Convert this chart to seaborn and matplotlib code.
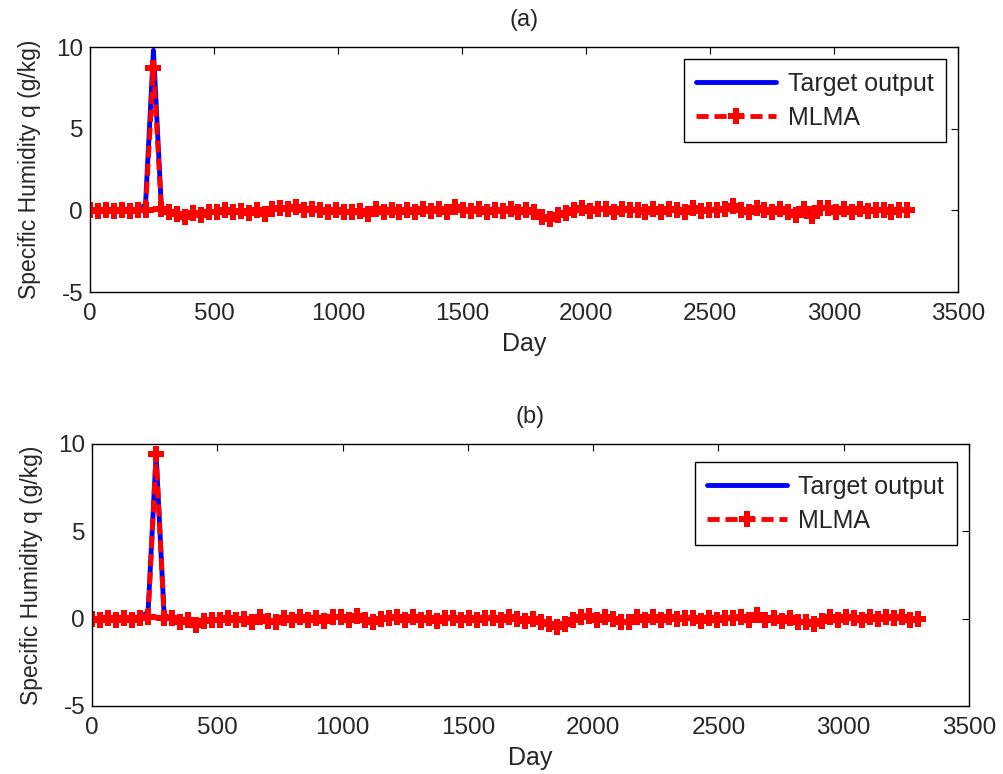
import numpy as np
import pandas as pd
import seaborn as sns
import matplotlib
matplotlib.use("Agg")
import matplotlib.pyplot as plt

# ── Data (one sample every DAY_STEP days) ─────────────────────────────────────
DAY_STEP = 32

target_a = [0.00, -0.05, 0.02, -0.04, 0.03, -0.06, 0.01, 0.35, 9.80, 0.15,
            -0.10, -0.25, -0.35, -0.20, -0.30, -0.05, -0.15, 0.02, -0.10, -0.05,
            -0.12, 0.00, -0.18, 0.05, 0.10, 0.08, 0.15, 0.05, 0.12, -0.02,
            -0.10, 0.02, -0.15, -0.05, -0.08, -0.20, 0.05, -0.12, 0.08, -0.05,
            0.00, -0.10, 0.05, -0.08, 0.10, -0.05, 0.15, 0.02, -0.06, 0.04,
            -0.10, 0.06, -0.04, 0.08, -0.12, 0.00, -0.06, -0.35, -0.50, -0.30,
            -0.15, 0.05, 0.10, -0.02, 0.12, 0.05, -0.08, 0.10, 0.00, 0.06,
            -0.05, 0.08, -0.10, 0.04, 0.02, -0.06, 0.10, -0.04, 0.06, 0.00,
            0.12, 0.25, 0.05, -0.08, 0.10, 0.02, -0.05, 0.08, -0.10, -0.25,
            0.05, -0.30, 0.10, 0.15, -0.05, 0.08, -0.12, 0.04, -0.08, 0.06,
            0.00, -0.10, 0.05, -0.02]
mlma_a = [0.00, -0.03, 0.03, -0.06, 0.02, -0.04, 0.03, 0.05, 8.70, 0.10,
          -0.08, -0.22, -0.40, -0.18, -0.28, -0.08, -0.12, 0.04, -0.12, -0.02,
          -0.15, 0.02, -0.20, 0.08, 0.12, 0.06, 0.18, 0.03, 0.10, 0.00,
          -0.12, 0.04, -0.13, -0.08, -0.05, -0.22, 0.08, -0.10, 0.05, -0.07,
          0.03, -0.12, 0.07, -0.05, 0.08, -0.08, 0.18, 0.00, -0.04, 0.06,
          -0.12, 0.04, -0.06, 0.10, -0.10, 0.02, -0.08, -0.38, -0.52, -0.28,
          -0.18, 0.03, 0.12, -0.04, 0.10, 0.07, -0.10, 0.08, 0.02, 0.04,
          -0.08, 0.10, -0.08, 0.06, 0.00, -0.08, 0.12, -0.02, 0.04, 0.02,
          0.10, 0.28, 0.03, -0.10, 0.12, 0.00, -0.07, 0.10, -0.12, -0.28,
          0.08, -0.32, 0.12, 0.12, -0.08, 0.10, -0.10, 0.06, -0.06, 0.04,
          0.02, -0.08, 0.03, 0.00]

target_b = [0.00, -0.08, 0.02, -0.05, 0.04, -0.06, 0.02, 0.40, 9.40, 0.20,
            0.00, -0.15, -0.10, -0.35, -0.15, -0.05, -0.12, 0.02, -0.08, -0.02,
            -0.15, 0.05, -0.10, -0.20, 0.02, -0.12, 0.08, -0.05, 0.04, -0.10,
            0.06, 0.10, -0.05, 0.12, -0.08, -0.20, -0.05, 0.02, 0.10, -0.06,
            0.08, -0.04, 0.06, -0.10, 0.02, 0.05, -0.08, 0.04, -0.06, 0.02,
            0.06, -0.04, 0.08, -0.02, -0.10, -0.05, -0.15, -0.25, -0.45, -0.30,
            -0.10, 0.05, 0.12, -0.04, 0.08, -0.02, -0.15, -0.20, 0.05, -0.08,
            0.06, -0.04, 0.10, -0.06, 0.02, 0.08, -0.10, 0.04, -0.05, 0.06,
            0.00, 0.10, -0.08, 0.15, -0.05, 0.04, -0.10, 0.02, -0.15, -0.20,
            -0.30, -0.10, 0.05, -0.05, 0.10, 0.02, -0.08, 0.06, -0.04, 0.08,
            0.00, 0.10, -0.05, 0.02]
mlma_b = [0.00, -0.10, 0.03, -0.06, 0.02, -0.05, 0.04, 0.10, 9.40, 0.05,
          0.02, -0.18, -0.08, -0.38, -0.12, -0.08, -0.10, 0.04, -0.10, 0.00,
          -0.18, 0.08, -0.12, -0.22, 0.04, -0.10, 0.10, -0.08, 0.06, -0.12,
          0.08, 0.12, -0.08, 0.15, -0.10, -0.22, -0.02, 0.04, 0.08, -0.08,
          0.10, -0.06, 0.04, -0.12, 0.04, 0.03, -0.10, 0.06, -0.08, 0.04,
          0.04, -0.06, 0.10, 0.00, -0.12, -0.03, -0.18, -0.28, -0.48, -0.32,
          -0.08, 0.08, 0.14, -0.06, 0.10, 0.00, -0.18, -0.22, 0.08, -0.10,
          0.08, -0.06, 0.12, -0.04, 0.04, 0.06, -0.12, 0.06, -0.08, 0.04,
          0.02, 0.12, -0.10, 0.18, -0.08, 0.06, -0.12, 0.04, -0.18, -0.22,
          -0.32, -0.12, 0.08, -0.08, 0.12, 0.04, -0.10, 0.08, -0.02, 0.10,
          0.02, 0.12, -0.08, 0.00]

PANELS = ["(a)", "(b)"]
X_TICKS = [0, 500, 1000, 1500, 2000, 2500, 3000, 3500]
Y_TICKS = [-5, 0, 5, 10]

# ── Style ─────────────────────────────────────────────────────────────────────
sns.set_style("white")
plt.rcParams["font.family"] = ["Liberation Sans", "DejaVu Sans"]
plt.rcParams["xtick.direction"] = "in"
plt.rcParams["ytick.direction"] = "in"
plt.rcParams["axes.unicode_minus"] = False

fig = plt.figure(figsize=(10.04, 7.74), dpi=100)
ax_pos = [[0.0896, 0.6227, 0.8645, 0.3165],
          [0.0916, 0.0879, 0.8735, 0.3385]]
legend_anchor = [(0.986, 0.951), (0.986, 0.931)]

for k, (tgt, mlma) in enumerate([(target_a, mlma_a), (target_b, mlma_b)]):
    ax = fig.add_axes(ax_pos[k])
    days = np.arange(len(tgt)) * DAY_STEP
    df = pd.DataFrame({"Day": days, "target": tgt, "mlma": mlma})

    sns.lineplot(data=df, x="Day", y="target", ax=ax, color="blue", lw=3.5,
                 label="Target output")
    sns.lineplot(data=df, x="Day", y="mlma", ax=ax, color="red", lw=3.5,
                 linestyle=(0, (2.5, 1.2)), marker="P", markersize=11.5,
                 markeredgewidth=0, label="MLMA")

    ax.set_xlim(0, 3500)
    ax.set_ylim(-5, 10)
    ax.set_xticks(X_TICKS)
    ax.set_yticks(Y_TICKS)
    ax.tick_params(labelsize=17.5, length=5, width=0.8, color="black",
                   top=True, right=True)
    ax.tick_params(axis="x", pad=8)
    ax.tick_params(axis="y", pad=5)
    for s in ax.spines.values():
        s.set_color("black")
        s.set_linewidth(1.0)
    ax.set_xlabel("Day", fontsize=18, labelpad=5)
    ax.set_ylabel("Specific Humidity q (g/kg)", fontsize=16.5, labelpad=11)
    ax.set_title(PANELS[k], fontsize=17, pad=15)

    leg = ax.legend(loc="upper right", bbox_to_anchor=legend_anchor[k],
                    borderaxespad=0, fontsize=18, fancybox=False, framealpha=1,
                    edgecolor="black", handlelength=3.2, borderpad=0.5,
                    labelspacing=0.4, handletextpad=0.45)
    leg.get_frame().set_linewidth(1.0)

plt.savefig("out.png", dpi=100)
plt.close()
